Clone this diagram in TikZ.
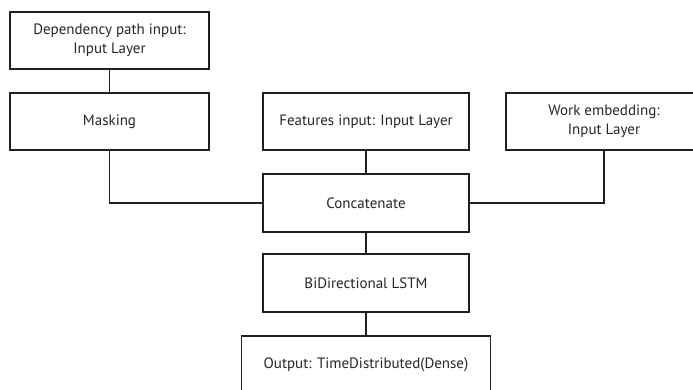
\documentclass[tikz,border=0pt]{standalone}
\usepackage{fontspec}
\setmainfont{PT Sans}
\begin{document}
\begin{tikzpicture}[x=1pt,y=-1pt,
  layer/.style={draw=black!88, line width=1.3pt, fill=white, inner sep=0pt, align=center,
    font=\fontsize{15}{19}\selectfont, text=black!85},
  link/.style={draw=black!88, line width=1.3pt}]
\useasboundingbox (0,0) rectangle (693,390);
\clip (0,0) rectangle (693,390);
\fill[white] (0,0) rectangle (693,390);
\node[layer, minimum width=199pt, minimum height=57pt] (dep) at (109.5,40.5) {Dependency path input:\\Input Layer};
\node[layer, minimum width=199pt, minimum height=57pt] (mask) at (109.5,121.5) {Masking};
\node[layer, minimum width=206pt, minimum height=57pt] (feat) at (366,121.5) {Features input: Input Layer};
\node[layer, minimum width=196pt, minimum height=57pt] (work) at (604,121.5) {Work embedding:\\Input Layer};
\node[layer, minimum width=206pt, minimum height=58pt] (concat) at (366,203) {Concatenate};
\node[layer, minimum width=206pt, minimum height=58pt] (lstm) at (366,283) {BiDirectional LSTM};
\node[layer, minimum width=249pt, minimum height=58pt] (out) at (366,365) {Output: TimeDistributed(Dense)};
\draw[link] (dep.south) -- (mask.north);
\draw[link] (mask.south) |- (concat.west);
\draw[link] (work.south) |- (concat.east);
\draw[link] (feat.south) -- (concat.north);
\draw[link] (concat.south) -- (lstm.north);
\draw[link] (lstm.south) -- (out.north);
\end{tikzpicture}
\end{document}
